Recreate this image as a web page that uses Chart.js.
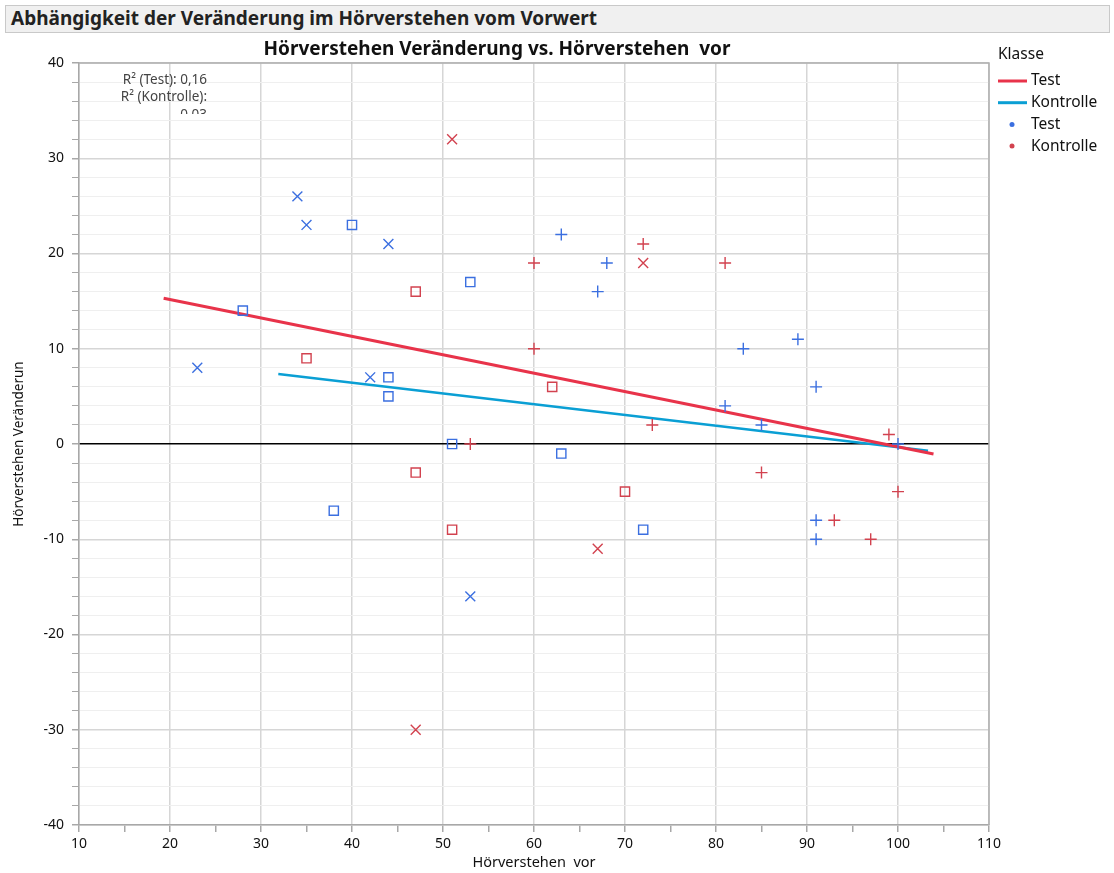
<!DOCTYPE html>
<html>
<head>
<meta charset="utf-8">
<script src="https://cdn.jsdelivr.net/npm/chart.js@4.4.1/dist/chart.umd.min.js"></script>
<style>
  html, body { margin: 0; padding: 0; background: #fff; }
  #wrap { position: relative; width: 1114px; height: 873px; overflow: hidden; }
  #head {
    position: absolute; left: 5px; top: 5px; width: 1105px; height: 28px;
    box-sizing: border-box; background: #f0f0f0; border: 1px solid #c9c9c9;
    font: bold 19px "Noto Sans", sans-serif; color: #222; line-height: 25px; padding-left: 5px;
  }
  canvas { position: absolute; left: 0; top: 0; }
</style>
</head>
<body>
<div id="wrap">
  <canvas id="chart" width="1114" height="873"></canvas>
  <div id="head">Abhängigkeit der Veränderung im Hörverstehen vom Vorwert</div>
</div>
<script>
// Punkte Test (blau): x = Hörverstehen vor, y = Veränderung, Form = Untergruppe
const testX = [34, 35, 40, 44, 53, 28, 23, 42, 44, 44, 51, 63, 38, 72, 53, 63, 68, 67, 83, 89, 91, 81, 85, 100, 91, 91];
const testY = [26, 23, 23, 21, 17, 14, 8, 7, 7, 5, 0, -1, -7, -9, -16, 22, 19, 16, 10, 11, 6, 4, 2, 0, -8, -10];
const testShape = ['x', 'x', 's', 'x', 's', 's', 'x', 'x', 's', 's', 's', 's', 's', 's', 'x', '+', '+', '+', '+', '+', '+', '+', '+', '+', '+', '+'];

// Punkte Kontrolle (rot)
const kontrolleX = [51, 72, 72, 60, 81, 47, 60, 35, 62, 73, 53, 47, 85, 70, 100, 99, 51, 67, 93, 97, 47];
const kontrolleY = [32, 21, 19, 19, 19, 16, 10, 9, 6, 2, 0, -3, -3, -5, -5, 1, -9, -11, -8, -10, -30];
const kontrolleShape = ['x', '+', 'x', '+', '+', 's', '+', 's', 's', '+', '+', 's', '+', 's', '+', '+', 's', 'x', '+', '+', 'x'];

// Regressionsgeraden (Endpunkte)
const testLineX = [19.3, 103.9];
const testLineY = [15.3, -1.05];
const kontrolleLineX = [31.9, 103.3];
const kontrolleLineY = [7.35, -0.7];

const r2Lines = ['R² (Test): 0,16', 'R² (Kontrolle):', '0,03'];
const xTicksMajor = 10;
const yTicksMajor = 10;

const RED_LINE = '#e8334a';
const CYAN_LINE = '#0a9fd4';
const BLUE_PT = '#3b6fe0';
const RED_PT = '#d2424f';
const FONT = '"Noto Sans", sans-serif';

const STYLE = { x: 'crossRot', s: 'rect', '+': 'cross' };
const RADIUS = { x: 7, s: 6.5, '+': 6 };

const zip = (xs, ys) => xs.map((x, i) => ({ x, y: ys[i] }));

const overlay = {
  id: 'overlay',
  afterDraw(chart) {
    const { ctx, chartArea: a } = chart;
    ctx.save();

    // Rahmen oben/rechts
    ctx.strokeStyle = '#b0b0b0';
    ctx.lineWidth = 1.5;
    ctx.beginPath();
    ctx.moveTo(a.left, a.top);
    ctx.lineTo(a.right, a.top);
    ctx.lineTo(a.right, a.bottom);
    ctx.stroke();

    // Diagrammtitel
    ctx.fillStyle = '#111';
    ctx.font = 'bold 19px ' + FONT;
    ctx.textAlign = 'center';
    ctx.textBaseline = 'middle';
    ctx.fillText('Hörverstehen Veränderung vs. Hörverstehen  vor', 497, 50);

    // R²-Box (abgeschnitten)
    ctx.save();
    ctx.beginPath();
    ctx.rect(a.left + 1, a.top + 2, 160, 49);
    ctx.clip();
    ctx.fillStyle = '#444';
    ctx.font = '13.5px ' + FONT;
    ctx.textAlign = 'right';
    r2Lines.forEach((t, i) => ctx.fillText(t, 207, 80 + i * 17.5));
    ctx.restore();

    // Legende
    ctx.textAlign = 'left';
    ctx.fillStyle = '#111';
    ctx.font = '15.5px ' + FONT;
    ctx.fillText('Klasse', 998, 55);
    const items = [
      { t: 'Test', line: RED_LINE },
      { t: 'Kontrolle', line: CYAN_LINE },
      { t: 'Test', dot: BLUE_PT },
      { t: 'Kontrolle', dot: RED_PT }
    ];
    items.forEach((it, i) => {
      const y = 81 + i * 21.7;
      if (it.line) {
        ctx.strokeStyle = it.line;
        ctx.lineWidth = 3;
        ctx.beginPath();
        ctx.moveTo(998, y);
        ctx.lineTo(1027, y);
        ctx.stroke();
      } else {
        ctx.fillStyle = it.dot;
        ctx.beginPath();
        ctx.arc(1012, y, 2.5, 0, Math.PI * 2);
        ctx.fill();
      }
      ctx.fillStyle = '#111';
      ctx.fillText(it.t, 1031, y);
    });
    ctx.restore();
  }
};

const pointSet = (label, xs, ys, shapes, color) => ({
  label,
  data: zip(xs, ys),
  pointStyle: shapes.map((s) => STYLE[s]),
  pointRadius: shapes.map((s) => RADIUS[s]),
  pointBorderColor: color,
  pointBackgroundColor: 'rgba(0,0,0,0)',
  pointBorderWidth: 1.4,
  showLine: false,
  order: 0
});

const lineSet = (label, xs, ys, color, width) => ({
  label,
  data: zip(xs, ys),
  borderColor: color,
  borderWidth: width,
  showLine: true,
  pointRadius: 0,
  fill: false,
  order: 1
});

new Chart(document.getElementById('chart'), {
  type: 'scatter',
  data: {
    datasets: [
      lineSet('Test', testLineX, testLineY, RED_LINE, 3),
      lineSet('Kontrolle', kontrolleLineX, kontrolleLineY, CYAN_LINE, 2.5),
      pointSet('Test', testX, testY, testShape, BLUE_PT),
      pointSet('Kontrolle', kontrolleX, kontrolleY, kontrolleShape, RED_PT)
    ]
  },
  options: {
    responsive: false,
    animation: false,
    layout: { padding: { top: 63, right: 125, left: 0, bottom: 0 } },
    plugins: {
      legend: { display: false },
      title: { display: false },
      tooltip: { enabled: false }
    },
    scales: {
      x: {
        type: 'linear',
        min: 10,
        max: 110,
        afterFit: (s) => { s.height = 48; },
        ticks: {
          stepSize: 5,
          autoSkip: false,
          maxRotation: 0,
          padding: 4,
          color: '#111',
          font: { family: FONT, size: 14 },
          callback: (v) => (v % xTicksMajor === 0 ? v : '')
        },
        grid: {
          color: (c) => (c.tick && c.tick.value % xTicksMajor === 0 ? '#d6d6d6' : 'rgba(0,0,0,0)'),
          lineWidth: 1.5,
          tickColor: '#a8a8a8',
          tickLength: 7
        },
        border: { color: '#a8a8a8', width: 1.5 },
        title: {
          display: true,
          text: 'Hörverstehen  vor',
          color: '#111',
          font: { family: FONT, size: 14.5 },
          padding: { top: 0, bottom: 1 }
        }
      },
      y: {
        type: 'linear',
        min: -40,
        max: 40,
        afterFit: (s) => { s.width = 79; },
        ticks: {
          stepSize: 2,
          autoSkip: false,
          padding: 8,
          color: '#111',
          font: { family: FONT, size: 14 },
          callback: (v) => (v % yTicksMajor === 0 ? v : '')
        },
        grid: {
          color: (c) => {
            const v = c.tick ? c.tick.value : 1;
            if (v === 0) return '#000';
            return v % yTicksMajor === 0 ? '#d6d6d6' : '#efefef';
          },
          lineWidth: (c) => (c.tick && c.tick.value % yTicksMajor === 0 ? 1.5 : 1),
          tickColor: '#a8a8a8',
          tickLength: 7
        },
        border: { color: '#a8a8a8', width: 1.5 },
        title: {
          display: true,
          text: 'Hörverstehen Veränderun',
          color: '#111',
          font: { family: FONT, size: 13.5 },
          padding: { top: 11, bottom: 0 }
        }
      }
    }
  },
  plugins: [overlay]
});
</script>
</body>
</html>
